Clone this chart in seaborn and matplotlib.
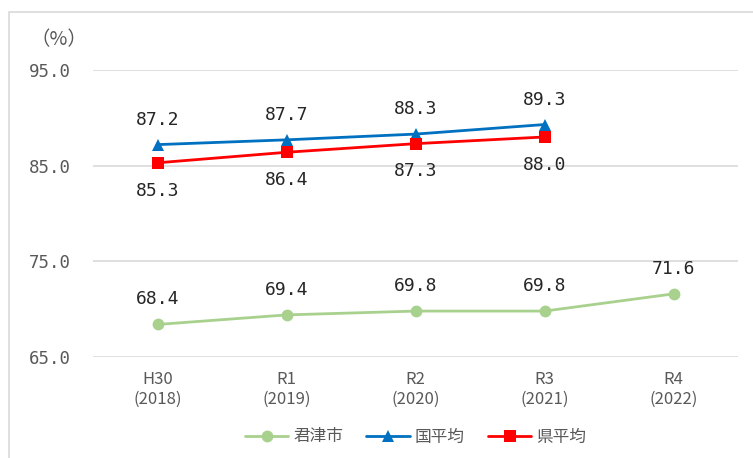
import numpy as np
import pandas as pd
import matplotlib
matplotlib.use("Agg")
import matplotlib.pyplot as plt
from matplotlib.patches import Rectangle
import seaborn as sns

# Data
years = ["H30\n(2018)", "R1\n(2019)", "R2\n(2020)", "R3\n(2021)", "R4\n(2022)"]
kimitsu = [68.4, 69.4, 69.8, 69.8, 71.6]
national = [87.2, 87.7, 88.3, 89.3, np.nan]
prefecture = [85.3, 86.4, 87.3, 88.0, np.nan]
series_names = ["君津市", "国平均", "県平均"]
y_ticks = [65.0, 75.0, 85.0, 95.0]

sns.set_theme(style="white")
plt.rcParams["font.family"] = ["Noto Sans CJK JP", "DejaVu Sans"]

fig = plt.figure(figsize=(7.53, 4.58), dpi=100)
ax = fig.add_axes([93 / 753, 1 - 357 / 458, (738 - 93) / 753, (357 - 70) / 458])

# outer frame
fig.patches.append(Rectangle((9 / 753, -0.05), 1.2, 1 - 12 / 458 + 0.05,
                             transform=fig.transFigure, fill=False,
                             edgecolor="#d9d9d9", linewidth=1.2, zorder=0))

x = np.arange(len(years))
df = pd.DataFrame({"x": x, series_names[0]: kimitsu,
                   series_names[1]: national, series_names[2]: prefecture})

styles = {
    "君津市": dict(color="#a9d18e", marker="o", ms=8.5, offset=18),
    "国平均": dict(color="#0070c0", marker="^", ms=8.5, offset=18),
    "県平均": dict(color="#ff0000", marker="s", ms=8.5, offset=-20),
}

for name in series_names:
    st = styles[name]
    sub = df[["x", name]].dropna()
    sns.lineplot(data=sub, x="x", y=name, ax=ax, color=st["color"],
                 marker=st["marker"], markersize=st["ms"], linewidth=2,
                 markeredgewidth=0, label=name)
    for xi, yi in zip(sub["x"], sub[name]):
        ax.annotate(f"{yi:.1f}", (xi, yi), textcoords="offset points",
                    xytext=(0, st["offset"]), ha="center", va="center",
                    fontsize=13, color="#262626", family="DejaVu Sans Mono")

ax.set_xlim(-0.5, 4.5)
ax.set_ylim(65, 95)
ax.set_yticks(y_ticks)
ax.set_yticklabels([f"{v:.1f}" for v in y_ticks], family="DejaVu Sans Mono",
                   fontsize=12.5, color="#595959")
ax.set_xticks(x)
ax.set_xticklabels(years, fontsize=12, color="#595959", linespacing=1.2)
ax.tick_params(axis="y", length=0, pad=16)
ax.tick_params(axis="x", length=0, pad=10)
ax.set_xlabel("")
ax.set_ylabel("")
ax.grid(axis="y", color="#d9d9d9", linewidth=1.2)
ax.grid(axis="x", visible=False)
for s in ax.spines.values():
    s.set_visible(False)

fig.text(30 / 753, 1 - 40 / 458, "（%）", fontsize=14, color="#595959",
         ha="left", va="center")

ax.legend(loc="center", bbox_to_anchor=(0.5, (437 - 357) / -287), ncol=3,
          frameon=False, fontsize=12, handlelength=2.6, columnspacing=1.4,
          handletextpad=0.3, labelcolor="#595959")

fig.savefig("out.png", dpi=100)
